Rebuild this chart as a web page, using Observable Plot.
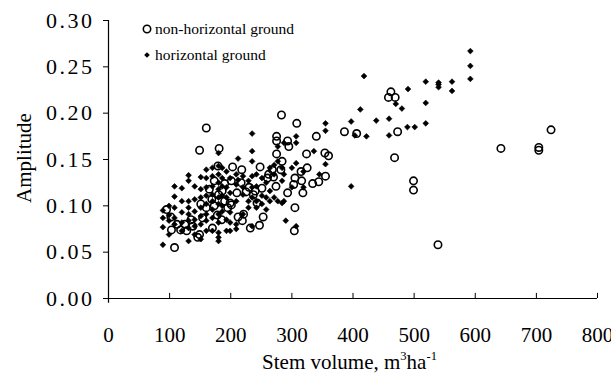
<!DOCTYPE html>
<html>
<head>
<meta charset="utf-8">
<script src="https://cdn.jsdelivr.net/npm/d3@7"></script>
<script src="https://cdn.jsdelivr.net/npm/@observablehq/plot@0.6"></script>
<style>
  html, body { margin: 0; padding: 0; background: #fff; }
  #wrap { position: relative; width: 611px; height: 376px; font-family: "Liberation Serif", "Times New Roman", serif; color: #000; overflow: hidden; }
  .ov { position: absolute; white-space: nowrap; line-height: 1; }
  sup { font-size: 0.6em; vertical-align: 0; position: relative; top: -0.75em; }
  g[aria-label="y-axis tick label"] text { letter-spacing: 2.5px; }
</style>
</head>
<body>
<div id="wrap"></div>
<script>
// ---- data (stem volume m3/ha, amplitude) ----
const seriesNames = ["non-horizontal ground", "horizontal ground"];
const xTicks = [0, 100, 200, 300, 400, 500, 600, 700, 800];
const yTicks = [0, 0.05, 0.10, 0.15, 0.20, 0.25, 0.30];

const nonHorizontal = [
  [160,.184],[149,.160],[181,.162],[283,.198],[308,.189],[275,.175],[275,.170],[293,.170],[295,.164],
  [275,.156],[324,.156],[340,.175],[386,.180],[406,.178],[462,.223],[458,.217],[469,.217],[473,.180],
  [468,.152],[499,.127],[499,.117],[539,.058],[642,.162],[704,.163],[704,.160],[724,.182],[354,.157],
  [360,.154],[355,.132],[344,.126],[334,.124],[305,.130],[303,.123],[316,.127],[318,.114],[315,.137],
  [325,.141],[305,.098],[304,.073],[293,.114],[284,.148],[282,.139],[274,.121],[268,.139],[262,.134],
  [248,.142],[251,.119],[253,.088],[247,.079],[232,.076],[243,.103],[240,.116],[221,.091],[219,.084],
  [212,.088],[217,.125],[203,.142],[218,.139],[201,.127],[199,.103],[201,.101],[210,.114],[179,.143],
  [173,.127],[186,.116],[180,.112],[169,.107],[173,.100],[170,.076],[151,.102],[149,.069],[146,.066],
  [128,.073],[118,.074],[108,.055],[103,.074],[102,.088],[95,.096],[125,.080],[160,.098],[154,.087],
  [185,.085],[230,.120],[225,.115],[260,.130],[270,.131],[190,.105],[195,.098],[178,.090],[165,.118],
  [138,.078],[135,.085],[112,.080],[190,.124],[237,.112]
];

const horizontal = [
  [592,.267],[592,.251],[592,.237],[418,.240],[519,.234],[540,.233],[540,.231],[540,.228],[562,.234],
  [562,.224],[490,.226],[519,.211],[519,.189],[470,.210],[480,.205],[412,.204],[459,.194],[438,.192],
  [397,.191],[489,.185],[501,.185],[459,.176],[422,.175],[403,.176],[397,.121],[355,.189],[355,.181],
  [355,.145],[336,.159],[307,.175],[307,.168],[287,.168],[235,.178],[235,.159],[235,.148],[212,.151],
  [180,.157],
  [89,.095],[89,.087],[89,.077],[89,.058],
  [99,.100],[99,.090],[99,.084],[99,.069],
  [108,.121],[108,.110],[108,.098],[108,.087],[108,.080],
  [120,.119],[120,.105],[120,.093],[120,.082],[120,.073],
  [131,.133],[131,.127],[131,.105],[131,.098],[131,.091],[131,.084],[131,.076],[131,.062],
  [141,.121],[141,.107],[141,.094],[141,.085],[141,.078],[141,.069],
  [151,.131],[151,.118],[151,.109],[151,.098],[151,.089],[151,.080],[151,.064],
  [160,.139],[160,.130],[160,.120],[160,.111],[160,.102],[160,.091],[160,.084],[160,.073],
  [170,.141],[170,.132],[170,.121],[170,.112],[170,.105],[170,.096],[170,.087],[170,.073],
  [180,.143],[180,.134],[180,.125],[180,.118],[180,.109],[180,.102],[180,.091],[180,.082],[180,.071],[180,.066],[180,.062],
  [186,.141],[186,.130],[186,.121],[186,.111],[186,.100],[186,.094],
  [193,.137],[193,.120],[193,.109],[193,.085],[193,.073],
  [199,.130],[199,.114],[199,.093],[199,.082],[199,.073],
  [209,.134],[209,.123],[209,.105],[209,.080],[209,.075],
  [212,.128],
  [220,.132],[220,.120],[220,.112],[220,.091],
  [229,.127],[229,.105],[229,.098],
  [235,.132],[235,.120],[235,.109],[235,.078],
  [242,.134],[242,.121],[242,.105],[242,.098],
  [251,.130],[251,.111],[251,.102],
  [258,.125],[258,.109],[258,.096],
  [264,.141],[264,.116],[264,.105],
  [271,.144],[271,.134],[271,.109],
  [277,.164],[277,.148],[277,.105],
  [284,.141],[284,.127],[284,.103],
  [287,.134],[287,.105],
  [290,.084],
  [300,.141],[300,.120],
  [307,.146],[307,.078],
  [319,.137],[319,.120],
  [345,.134]
];

const font = "Liberation Serif";

const chart = Plot.plot({
  width: 611,
  height: 376,
  marginLeft: 108,
  marginRight: 14,
  marginTop: 20,
  marginBottom: 78,
  style: { fontFamily: font, background: "#fff", color: "#000", overflow: "visible" },
  x: { domain: [0, 800] },
  y: { domain: [0, 0.30] },
  marks: [
    Plot.axisY({ ticks: yTicks, tickFormat: d3.format(".2f"), tickSize: 5, tickPadding: 9, fontSize: 22, label: null, stroke: "#000" }),
    Plot.axisX({ ticks: xTicks, tickFormat: d3.format("d"), tickSize: 0, tickPadding: 29, fontSize: 21, label: null }),
    Plot.ruleY([0], { stroke: "#000", strokeWidth: 1.2 }),
    Plot.ruleX([0], { y1: -0.005, y2: 0.30, stroke: "#000", strokeWidth: 1.2 }),
    Plot.ruleX(xTicks.slice(1), { y1: 0, y2: 0.0055, stroke: "#000", strokeWidth: 1 }),
    Plot.dot(horizontal, { x: d => d[0], y: d => d[1], symbol: "diamond2", r: 2.6, fill: "#000", stroke: "#000", strokeWidth: 0.6 }),
    Plot.dot(nonHorizontal, { x: d => d[0], y: d => d[1], r: 3.7, fill: "none", stroke: "#000", strokeWidth: 1.6 })
  ]
});

const wrap = document.getElementById("wrap");
wrap.appendChild(chart);

// axis titles
const xt = document.createElement("div");
xt.className = "ov";
xt.style.cssText = "left:0;width:611px;text-align:center;top:352px;font-size:21px;padding-left:88px;box-sizing:border-box;";
xt.innerHTML = "Stem volume, m<sup>3</sup>ha<sup>-1</sup>";
wrap.appendChild(xt);

const yt = document.createElement("div");
yt.className = "ov";
yt.style.cssText = "left:24px;top:158px;font-size:21px;transform:translate(-50%,-50%) rotate(-90deg);";
yt.textContent = "Amplitude";
wrap.appendChild(yt);

// legend
const lg = document.createElement("div");
lg.className = "ov";
lg.style.cssText = "left:141px;top:16px;font-size:15.5px;line-height:26px;";
lg.innerHTML =
  `<div><svg width="14" height="12" style="vertical-align:-1px"><circle cx="6" cy="6" r="3.7" fill="none" stroke="#000" stroke-width="1.6"/></svg>${seriesNames[0]}</div>` +
  `<div><svg width="14" height="12" style="vertical-align:-1px"><path d="M6 3.2 L8.8 6 L6 8.8 L3.2 6 Z" fill="#000"/></svg>${seriesNames[1]}</div>`;
wrap.appendChild(lg);
</script>
</body>
</html>
